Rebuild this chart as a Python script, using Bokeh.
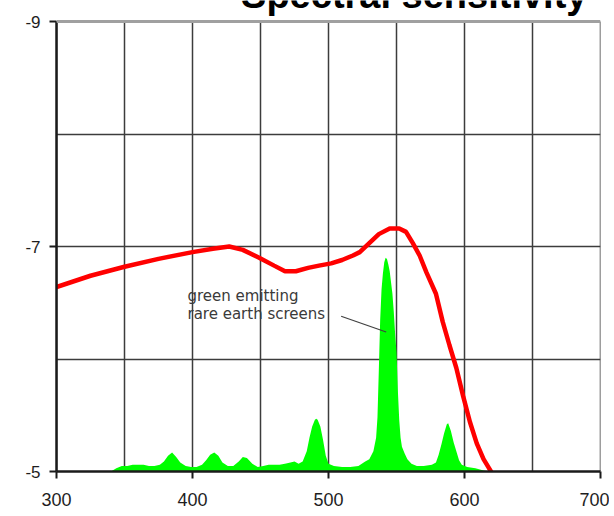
from bokeh.plotting import figure
from bokeh.models import Range1d, FixedTicker, Span, Label
from bokeh.embed import file_html
from bokeh.resources import INLINE

# ---- data ----
x_ticks = [300, 400, 500, 600, 700]
y_ticks = [-9, -7, -5]
y_tick_labels = ["-9", "-7", "-5"]
x_grid = [300, 350, 400, 450, 500, 550, 600, 650, 700]
y_grid = [-8, -7, -6]
y_top, baseline = -9, -5

red_nm = [300, 325, 350, 375, 400, 415, 427, 437, 449, 460, 468, 476, 485, 493,
          502, 510, 518, 523, 530, 537, 545, 552, 557, 562, 567, 572, 579, 584,
          589, 594, 599, 604, 609, 614, 620]
red_val = [-6.64, -6.74, -6.82, -6.89, -6.95, -6.98, -7.00, -6.97, -6.90, -6.83,
           -6.78, -6.78, -6.81, -6.83, -6.85, -6.88, -6.92, -6.95, -7.03, -7.11,
           -7.16, -7.16, -7.13, -7.03, -6.92, -6.77, -6.58, -6.33, -6.12, -5.92,
           -5.67, -5.44, -5.25, -5.11, -4.99]

green_nm = [340, 344, 348, 352, 356, 360, 364, 368, 372, 376, 379, 382, 385, 388,
            391, 395, 399, 403, 407, 410, 413, 416, 419, 422, 426, 430, 434, 437,
            440, 444, 448, 452, 456, 460, 464, 468, 472, 475, 478, 481, 484, 486,
            488, 490, 491, 492, 494, 496, 498, 500, 504, 510, 516, 522, 527, 530,
            533, 535, 536, 537, 538, 539, 540, 541, 542, 543, 544, 545, 546, 547,
            548, 549, 550, 551, 552, 553, 554, 556, 558, 561, 565, 570, 576, 579,
            581, 583, 585, 587, 588, 590, 592, 594, 596, 598, 602, 608, 614, 618]
green_val = [-5.00, -5.03, -5.05, -5.05, -5.06, -5.06, -5.06, -5.05, -5.05, -5.06,
             -5.09, -5.14, -5.17, -5.13, -5.08, -5.05, -5.04, -5.04, -5.06, -5.10,
             -5.15, -5.17, -5.14, -5.08, -5.05, -5.05, -5.09, -5.13, -5.12, -5.07,
             -5.04, -5.05, -5.06, -5.06, -5.06, -5.07, -5.08, -5.09, -5.07, -5.09,
             -5.18, -5.30, -5.40, -5.46, -5.47, -5.46, -5.40, -5.28, -5.14, -5.07,
             -5.05, -5.04, -5.04, -5.05, -5.09, -5.11, -5.18, -5.30, -5.48, -5.90,
             -6.35, -6.62, -6.76, -6.86, -6.90, -6.89, -6.84, -6.78, -6.68, -6.58,
             -6.42, -6.22, -6.06, -5.72, -5.46, -5.30, -5.22, -5.16, -5.11, -5.07,
             -5.05, -5.05, -5.06, -5.08, -5.15, -5.24, -5.34, -5.42, -5.43, -5.36,
             -5.26, -5.18, -5.10, -5.06, -5.04, -5.03, -5.01, -5.00]

title_text = "Spectral sensitivity"
note_lines = ["green emitting", "rare earth screens"]

# ---- layout constants ----
PX_PER_UNIT = 112.5          # vertical pixels per y unit
TOP_MARGIN_PX = 21           # space above the -9 line (title lives there)
range_top = y_top - TOP_MARGIN_PX / PX_PER_UNIT
title_y = range_top - 5.2 / PX_PER_UNIT

# ---- figure ----
p = figure(width=609, height=514, output_backend="svg", toolbar_location=None,
           title=None,
           x_range=Range1d(300, 700), y_range=Range1d(baseline, range_top),
           min_border_left=56, min_border_right=9, min_border_top=0,
           min_border_bottom=43)
p.background_fill_color = "white"
p.border_fill_color = "white"
p.outline_line_color = None

# grid: horizontal lines via grid, vertical lines limited to the -9..-5 box
p.ygrid.ticker = FixedTicker(ticks=y_grid)
p.ygrid.grid_line_color = "#3c3c3c"
p.ygrid.grid_line_width = 1.5
p.xgrid.grid_line_color = None
p.segment(x0=x_grid, y0=[y_top] * len(x_grid), x1=x_grid, y1=[baseline] * len(x_grid),
          line_color="#3c3c3c", line_width=1.5)

top_line = Span(location=y_top, dimension="width", line_color="#a0a0a0", line_width=3)
p.add_layout(top_line)

# axes
p.xaxis.ticker = FixedTicker(ticks=x_ticks)
p.yaxis.ticker = FixedTicker(ticks=y_ticks)
p.yaxis.bounds = (y_top, baseline)
p.yaxis.major_label_overrides = dict(zip(y_ticks, y_tick_labels))
for ax in (p.xaxis, p.yaxis):
    ax.axis_line_color = "#1a1a1a"
    ax.axis_line_width = 2.5
    ax.major_tick_line_color = "#1a1a1a"
    ax.major_tick_line_width = 2
    ax.major_tick_out = 7
    ax.major_tick_in = 0
    ax.minor_tick_line_color = None
    ax.major_label_text_font = "Liberation Sans"
    ax.major_label_text_color = "#1e1e1e"
p.xaxis.major_label_text_font_size = "18px"
p.xaxis.major_label_standoff = 14
p.yaxis.major_label_text_font_size = "17px"
p.yaxis.major_label_standoff = 9

# data
p.varea(x=green_nm, y1=[baseline] * len(green_nm), y2=green_val,
        fill_color="#00ff00", fill_alpha=1.0)
p.line(red_nm, red_val, line_color="#ff0000", line_width=4.5)

# annotation
p.add_layout(Label(x=396.3, y=-6.564, text=note_lines[0], text_font="DejaVu Sans",
                   text_font_size="15px", text_color="#3a3a3a",
                   text_baseline="middle"))
p.add_layout(Label(x=396.3, y=-6.40, text=note_lines[1], text_font="DejaVu Sans",
                   text_font_size="15px", text_color="#3a3a3a",
                   text_baseline="middle"))
p.segment(x0=[509.3], y0=[-6.38], x1=[542.4], y1=[-6.24],
          line_color="#404040", line_width=1.2)

# title (cut at the top edge, as in the reference)
p.add_layout(Label(x=690.4, y=title_y, text=title_text, text_font="Liberation Sans",
                   text_font_size="38px", text_font_style="bold",
                   text_color="black", text_align="right",
                   text_baseline="middle"))

open("out.html", "w").write(file_html(p, INLINE))
